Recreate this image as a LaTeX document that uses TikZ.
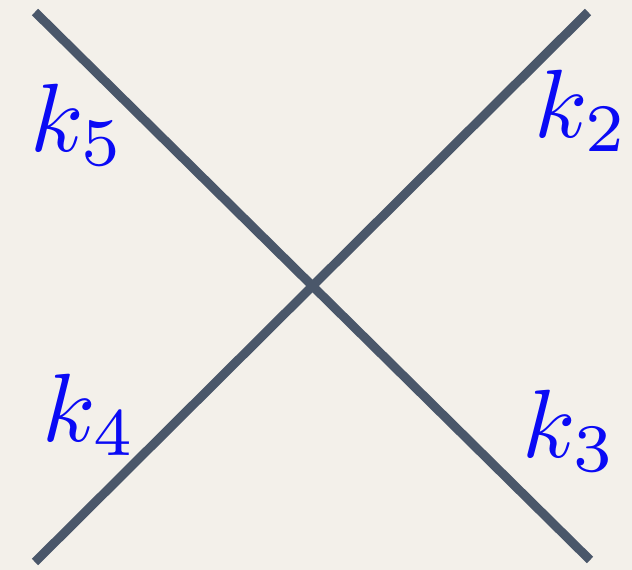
\documentclass[tikz,border=0pt]{standalone}
\usepackage{graphicx}
\usepackage{xcolor}
\definecolor{bgc}{RGB}{243,240,234}
\definecolor{linec}{RGB}{74,87,106}
\definecolor{labc}{RGB}{10,10,245}
\newcommand{\biglab}[1]{\scalebox{9.7}{$#1$}}
\begin{document}
\begin{tikzpicture}[x=1pt,y=-1pt,
  leg/.style={draw=linec,line width=9pt},
  lab/.style={text=labc,inner sep=0pt}]
\fill[bgc] (0,0) rectangle (632,570);
\useasboundingbox (0,0) rectangle (632,570);
\coordinate (tl) at (35,12);
\coordinate (br) at (590,560);
\coordinate (tr) at (588,12);
\coordinate (bl) at (35,562);
\draw[leg] (tl) -- (br);
\draw[leg] (tr) -- (bl);
\node[lab] (k5) at (78,125) {\biglab{k_5}};
\node[lab] (k2) at (582,111) {\biglab{k_2}};
\node[lab] (k4) at (90,415) {\biglab{k_4}};
\node[lab] (k3) at (570,431) {\biglab{k_3}};
\end{tikzpicture}
\end{document}
